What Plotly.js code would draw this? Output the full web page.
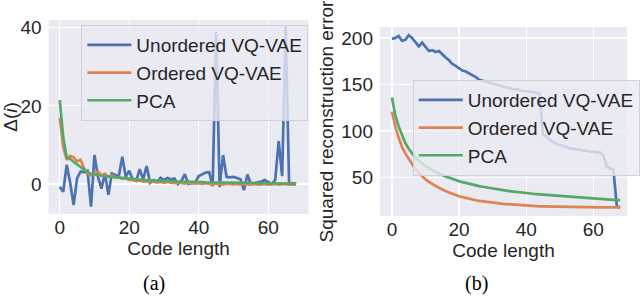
<!DOCTYPE html>
<html>
<head>
<meta charset="utf-8">
<script src="https://cdn.plot.ly/plotly-3.0.1.min.js"></script>
<style>html,body{margin:0;padding:0;background:#fff;}#chart{width:640px;height:300px;}</style>
</head>
<body>
<div id="chart"></div>
<script>
// ---- data ----
const codeLength = [0,1,2,3,4,5,6,7,8,9,10,11,12,13,14,15,16,17,18,19,20,21,22,23,24,25,26,27,28,29,30,31,32,33,34,35,36,37,38,39,40,41,42,43,44,45,46,47,48,49,50,51,52,53,54,55,56,57,58,59,60,61,62,63,64,65,66,67,68];

const seriesNames = ["Unordered VQ-VAE", "Ordered VQ-VAE", "PCA"];

// (a) Delta(i)
const deltaUnordered = [-0.7,-2,4.9,0.3,-5.4,1.5,3.2,3.0,3.4,-5.8,7.4,1.8,-1.2,2.7,-2.8,2.7,2.3,2.0,7.0,1.8,3.4,1.1,0.8,3.8,1.2,4.6,0.3,1.0,0.5,1.6,1.0,1.5,1.2,1.4,0.0,0.8,2.5,0.0,0.2,0.4,2.0,2.5,2.9,3.0,-0.6,39,-0.8,7.4,1.8,1.7,1.8,1.5,1.2,-1.6,2.4,0.0,0.3,0.4,0.6,1.0,0.5,0.0,1.0,11,2.0,40.5,0.0,0.2,0.0];
const deltaOrdered = [17,9.5,6.2,7.2,6.8,5.8,6.2,4.0,2.6,2.2,2.8,3.2,2.2,2.6,1.8,2.2,1.6,1.8,1.3,1.5,1.0,1.1,0.8,0.9,0.6,0.7,0.5,0.6,0.4,0.5,0.3,0.5,0.3,0.2,0.4,0.2,0.1,0.3,0.2,0.1,0.2,0.0,0.2,0.1,-0.1,0.1,0.0,-0.2,0.1,0.0,-0.1,0.0,-0.2,0.0,-0.1,-0.2,0.0,-0.2,-0.1,0.0,-0.2,-0.1,0.0,-0.2,-0.1,0.0,-0.2,-0.1,-0.2];
const deltaPCA = [21.5,12.0,6.8,6.4,5.7,5.0,4.3,3.6,3.0,2.6,2.4,2.2,2.1,2.0,1.9,1.8,1.7,1.6,1.5,1.4,1.3,1.2,1.1,1.0,1.0,0.9,0.9,0.8,0.8,0.8,0.7,0.7,0.7,0.6,0.6,0.6,0.6,0.5,0.5,0.5,0.5,0.5,0.4,0.4,0.4,0.4,0.4,0.4,0.3,0.3,0.3,0.3,0.3,0.3,0.3,0.3,0.2,0.2,0.2,0.2,0.2,0.2,0.2,0.2,0.2,0.2,0.1,0.1,0.1];

// (b) Squared reconstruction error
const errUnordered = [199,200,202,197,198,203,200,196,191,195,190,186,187,185,186,182,179,176,172,170,167,165,164,162,160,158,155,154,153,152,151,150,149,148,147,146,145,145,144,143,143,142,142,141,140,96,94,91,88,86,85,84,83,81,81,80,80,79,79,78,78,77,77,74,62,60,58,19,18];
const errOrdered = [121,105,93,83,76,70,64,59,55,51,48,45.5,43,41,39,37,35.5,34,32.5,31,30,29,28,27,26.3,25.6,25,24.4,23.9,23.4,23,22.6,22.2,21.8,21.5,21.2,20.9,20.6,20.3,20.1,19.9,19.7,19.5,19.3,19.1,19.0,18.9,18.7,18.6,18.5,18.5,18.4,18.4,18.3,18.3,18.3,18.2,18.2,18.2,18.1,18.1,18.1,18.0,18.0,18.0,18.0,18.0,17.9,17.9];
const errPCA = [136,117,105,95,87,81,76,71.5,68,65,62.5,60,58,56,54.3,52.7,51.2,49.8,48.5,47.3,46.2,45.1,44.1,43.2,42.4,41.6,40.8,40.1,39.4,38.8,38.2,37.6,37.0,36.5,36.0,35.5,35.0,34.6,34.2,33.8,33.4,33.0,32.6,32.3,32.0,31.6,31.3,31.0,30.7,30.4,30.1,29.8,29.6,29.3,29.0,28.8,28.5,28.3,28.0,27.8,27.5,27.3,27.0,26.8,26.6,26.3,26.1,25.9,25.7];

const xTicks = [0, 20, 40, 60];
const yTicksA = [0, 20, 40];
const yTicksB = [50, 100, 150, 200];

// ---- styling ----
const colors = ["#4C72B0", "#DD8452", "#55A868"];
const FONT = "Liberation Sans, Arial, sans-serif";
const TXT = "#262626";
const LW = 2.7;
const FS = 19;

function line(x, y, i, xa, ya, leg) {
  return {
    x: x, y: y, type: "scatter", mode: "lines", name: seriesNames[i],
    line: {color: colors[i], width: LW},
    xaxis: xa, yaxis: ya, legend: leg, showlegend: true
  };
}

const traces = [
  line(codeLength, deltaUnordered, 0, "x", "y", "legend"),
  line(codeLength, deltaOrdered, 1, "x", "y", "legend"),
  line(codeLength, deltaPCA, 2, "x", "y", "legend"),
  line(codeLength, errUnordered, 0, "x2", "y2", "legend2"),
  line(codeLength, errOrdered, 1, "x2", "y2", "legend2"),
  line(codeLength, errPCA, 2, "x2", "y2", "legend2")
];

function xaxis(domain, anchor, range) {
  return {
    domain: domain, anchor: anchor, range: range,
    tickvals: xTicks, ticks: "", showline: false, zeroline: false,
    showgrid: true, gridcolor: "#ffffff", gridwidth: 1.2,
    tickfont: {family: FONT, size: FS, color: TXT},
    ticklabelstandoff: 0,
    title: {text: "Code length", font: {family: FONT, size: FS, color: TXT}, standoff: 0},
    automargin: false, fixedrange: true
  };
}
function yaxis(domain, anchor, range, tv, title, standoff) {
  return {
    domain: domain, anchor: anchor, range: range,
    tickvals: tv, ticks: "", showline: false, zeroline: false,
    showgrid: true, gridcolor: "#ffffff", gridwidth: 1.2,
    tickfont: {family: FONT, size: FS, color: TXT},
    ticklabelstandoff: 6,
    title: {text: title, font: {family: FONT, size: FS, color: TXT}, standoff: standoff},
    automargin: false, fixedrange: true
  };
}

const legendBase = {
  bgcolor: "rgba(234,234,242,0.8)", bordercolor: "#d0d0d8", borderwidth: 1,
  font: {family: FONT, size: FS, color: TXT},
  xanchor: "left", yanchor: "top", itemwidth: 44, tracegroupgap: 0
};

const layout = {
  width: 640, height: 300,
  margin: {l: 0, r: 0, t: 0, b: 0},
  paper_bgcolor: "#ffffff", plot_bgcolor: "#EAEAF2",
  showlegend: true,
  xaxis: xaxis([49/640, 311/640], "y", [-3.2, 71.6]),
  yaxis: yaxis([1 - 214/300, 1 - 20/300], "x", [-7.7, 42.0], yTicksA, "Δ(<i>i</i>)", 2),
  xaxis2: xaxis([383/640, 632/640], "y2", [-3.55, 70.05]),
  yaxis2: yaxis([1 - 216/300, 1 - 27/300], "x2", [8.7, 211.8], yTicksB, "Squared reconstruction error", 2),
  legend: Object.assign({}, legendBase, {x: 82/640, y: 1 - 25/300}),
  legend2: Object.assign({}, legendBase, {x: 416/640, y: 1 - 80/300}),
  annotations: [
    {text: "(a)", xref: "paper", yref: "paper", x: 155/640, y: 1 - 283/300, showarrow: false,
     xanchor: "center", yanchor: "middle", font: {family: "Liberation Serif, Times New Roman, serif", size: 20, color: "#000"}},
    {text: "(b)", xref: "paper", yref: "paper", x: 480/640, y: 1 - 283/300, showarrow: false,
     xanchor: "center", yanchor: "middle", font: {family: "Liberation Serif, Times New Roman, serif", size: 20, color: "#000"}}
  ]
};

Plotly.newPlot("chart", traces, layout, {staticPlot: true, displayModeBar: false});
</script>
</body>
</html>
